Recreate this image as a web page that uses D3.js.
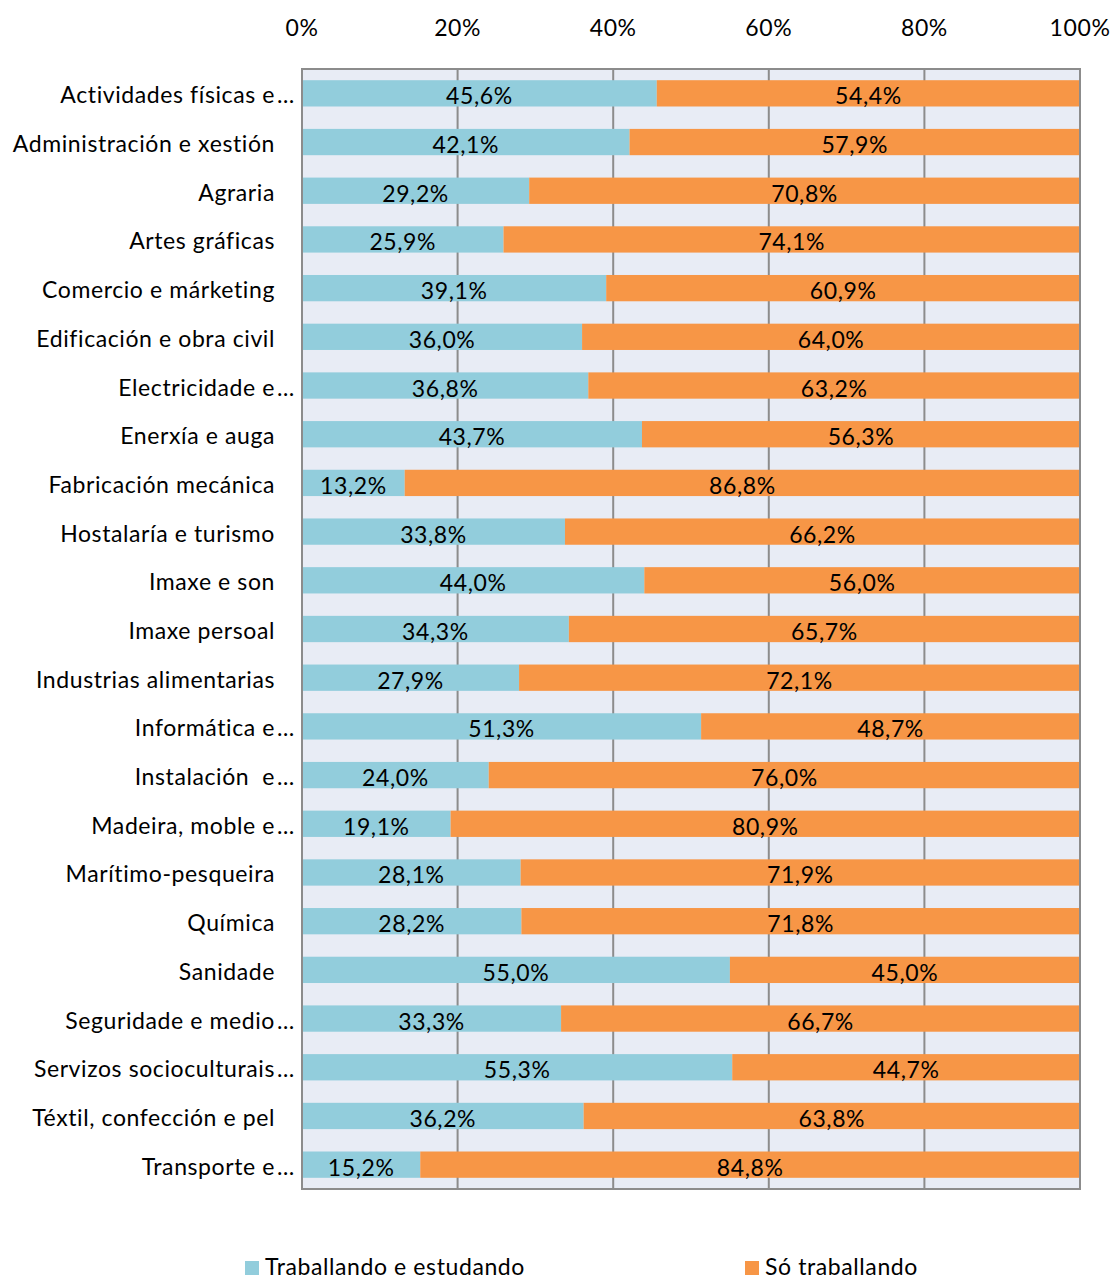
<!DOCTYPE html>
<html><head><meta charset="utf-8">
<script src="https://cdn.jsdelivr.net/npm/d3@7"></script>
<style>body{margin:0;background:#fff}svg{display:block}text{font-family:Lato,"Open Sans",sans-serif;fill:#000;letter-spacing:0.6px}</style>
</head><body><svg id="c" width="1114" height="1282"></svg>
<script>
const categories = ["Actividades físicas e","Administración e xestión","Agraria","Artes gráficas","Comercio e márketing","Edificación e obra civil","Electricidade e","Enerxía e auga","Fabricación mecánica","Hostalaría e turismo","Imaxe e son","Imaxe persoal","Industrias alimentarias","Informática e","Instalación  e","Madeira, moble e","Marítimo-pesqueira","Química","Sanidade","Seguridade e medio","Servizos socioculturais","Téxtil, confección e pel","Transporte e"];
const truncated = [true,false,false,false,false,false,true,false,false,false,false,false,false,true,true,true,false,false,false,true,true,false,true];
const estudando = [45.6,42.1,29.2,25.9,39.1,36.0,36.8,43.7,13.2,33.8,44.0,34.3,27.9,51.3,24.0,19.1,28.1,28.2,55.0,33.3,55.3,36.2,15.2];
const soTraballando = [54.4,57.9,70.8,74.1,60.9,64.0,63.2,56.3,86.8,66.2,56.0,65.7,72.1,48.7,76.0,80.9,71.9,71.8,45.0,66.7,44.7,63.8,84.8];
const tickValues = [0,20,40,60,80,100];
const seriesNames = ["Traballando e estudando","Só traballando"];
const colors = ["#92cddc","#f79646"];

const svg = d3.select("#c");
const L=302,R=1080,T=69,B=1189;
const FS=23;
const x = d3.scaleLinear().domain([0,100]).range([L,R]);
const y = d3.scaleBand().domain(categories).range([T,B]).paddingInner(0.46).paddingOuter(0.23);

svg.append("rect").attr("x",L).attr("y",T).attr("width",R-L).attr("height",B-T).attr("fill","#e8ecf5");
svg.append("g").selectAll("line").data(tickValues.slice(1,-1)).join("line")
  .attr("x1",d=>x(d)).attr("x2",d=>x(d)).attr("y1",T).attr("y2",B)
  .attr("stroke","#8c8c8c").attr("stroke-width",2);

const rows = categories.map((c,i)=>({c,i,a:estudando[i],b:soTraballando[i]}));
const g = svg.append("g");
g.selectAll("rect.a").data(rows).join("rect").attr("class","a")
  .attr("x",x(0)).attr("y",d=>y(d.c)).attr("width",d=>x(d.a)-x(0)).attr("height",y.bandwidth()).attr("fill",colors[0]);
g.selectAll("rect.b").data(rows).join("rect").attr("class","b")
  .attr("x",d=>x(d.a)).attr("y",d=>y(d.c)).attr("width",d=>x(d.a+d.b)-x(d.a)).attr("height",y.bandwidth()).attr("fill",colors[1]);

const fmt = v => v.toFixed(1).replace(".",",")+"%";
g.selectAll("text.la").data(rows).join("text").attr("class","la")
  .attr("x",d=>(x(0)+x(d.a))/2).attr("y",d=>y(d.c)+y.bandwidth()/2+2)
  .attr("text-anchor","middle").attr("dominant-baseline","central").attr("font-size",FS).text(d=>fmt(d.a));
g.selectAll("text.lb").data(rows).join("text").attr("class","lb")
  .attr("x",d=>(x(d.a)+x(d.a+d.b))/2).attr("y",d=>y(d.c)+y.bandwidth()/2+2)
  .attr("text-anchor","middle").attr("dominant-baseline","central").attr("font-size",FS).text(d=>fmt(d.b));

svg.append("rect").attr("x",L).attr("y",T).attr("width",R-L).attr("height",B-T).attr("fill","none").attr("stroke","#8c8c8c").attr("stroke-width",2);

svg.append("g").selectAll("text").data(tickValues).join("text")
  .attr("x",d=>x(d)).attr("y",27).attr("text-anchor","middle").attr("dominant-baseline","central")
  .attr("font-size",FS).text(d=>d+"%");

const cl = svg.append("g");
cl.selectAll("text.n").data(rows).join("text").attr("class","n")
  .attr("x",275).attr("y",d=>y(d.c)+y.bandwidth()/2+1).attr("text-anchor","end").attr("dominant-baseline","central")
  .attr("font-size",FS).style("white-space","pre").text(d=>d.c);
cl.selectAll("text.e").data(rows.filter(d=>truncated[d.i])).join("text").attr("class","e")
  .attr("x",277).attr("y",d=>y(d.c)+y.bandwidth()/2+1).attr("dominant-baseline","central")
  .attr("font-size",FS).text("…");

const lg = svg.append("g");
const lx=[245,745];
seriesNames.forEach((n,i)=>{
  lg.append("rect").attr("x",lx[i]).attr("y",1261).attr("width",14).attr("height",14).attr("fill",colors[i]);
  lg.append("text").attr("x",lx[i]+20).attr("y",1266).attr("dominant-baseline","central").attr("font-size",FS).text(n);
});
</script></body></html>
